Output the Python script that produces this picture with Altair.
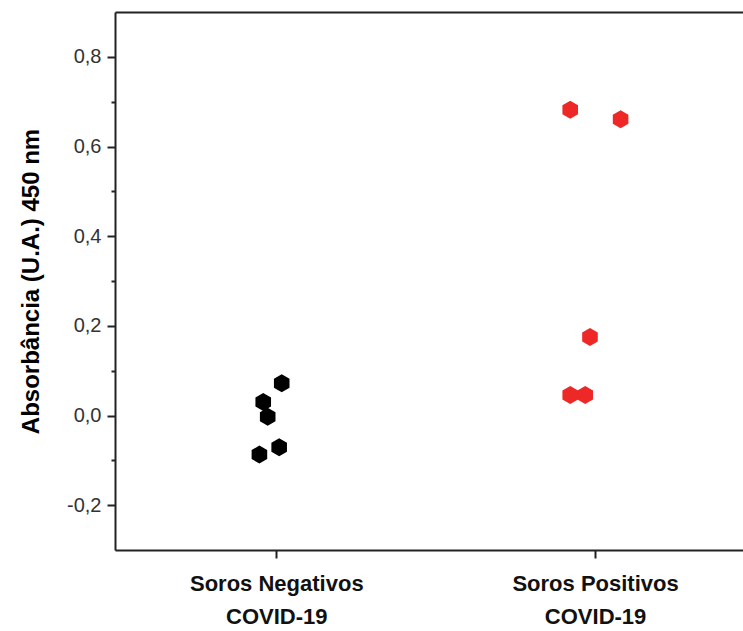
import altair as alt
import pandas as pd

groups = ["Soros Negativos", "Soros Positivos"]
group_label_line2 = "COVID-19"
# x position (group index + jitter) and absorbance
neg_x = [1.017, 0.959, 0.973, 1.009, 0.947]
neg_y = [0.072, 0.030, -0.003, -0.071, -0.087]
pos_x = [1.922, 2.080, 1.984, 1.922, 1.969]
pos_y = [0.682, 0.661, 0.175, 0.046, 0.046]
y_ticks = [-0.2, -0.1, 0.0, 0.1, 0.2, 0.3, 0.4, 0.5, 0.6, 0.7, 0.8]
colors = ["#000000", "#EE2727"]

df = pd.DataFrame({
    "x": neg_x + pos_x,
    "y": neg_y + pos_y,
    "grupo": [groups[0]] * len(neg_x) + [groups[1]] * len(pos_x),
})

hexagon = "M0,-1L0.866,-0.5L0.866,0.5L0,1L-0.866,0.5L-0.866,-0.5Z"

label_expr = (
    f"datum.value == 1 ? ['{groups[0]}', '{group_label_line2}'] : "
    f"datum.value == 2 ? ['{groups[1]}', '{group_label_line2}'] : ''"
)

x_scale = alt.Scale(domain=[0.494, 2.464], nice=False, zero=False)
y_scale = alt.Scale(domain=[-0.3, 0.9], nice=False, zero=False)

y_axis = alt.Axis(
    title="Absorbância (U.A.) 450 nm",
    titleFont="Liberation Sans",
    titleFontSize=24,
    titleFontWeight="bold",
    titleColor="#000000",
    titlePadding=23,
    values=y_ticks,
    labelExpr="round(datum.value*10) % 2 === 0 ? replace(replace(format(datum.value, '.1f'), '.', ','), '\u2212', '-') : ''",
    labelFont="Liberation Sans",
    labelFontSize=20,
    labelColor="#333333",
    labelPadding=6,
    labelLimit=0,
    tickSize={"condition": {"test": "round(datum.value*10) % 2 === 0", "value": 8}, "value": 4},
    tickWidth=2,
    tickColor="#222222",
    domainColor="#222222",
    domainWidth=2,
    grid=False,
)

x_axis = alt.Axis(
    title=None,
    values=[1, 2],
    labelExpr=label_expr,
    labelFont="Liberation Sans",
    labelFontSize=22,
    labelFontWeight="bold",
    labelColor="#111111",
    labelLineHeight=33,
    labelBaseline="top",
    labelPadding=15,
    labelLimit=0,
    tickSize=8,
    tickWidth=2,
    tickColor="#222222",
    domainColor="#222222",
    domainWidth=2,
    grid=False,
)

x_axis_top = alt.Axis(
    title=None, orient="top", labels=False, ticks=False,
    domainColor="#222222", domainWidth=2, grid=False,
)

points = alt.Chart(df).mark_point(
    shape=hexagon, filled=True, size=324, opacity=1, strokeWidth=0
).encode(
    x=alt.X("x:Q", scale=x_scale, axis=x_axis),
    y=alt.Y("y:Q", scale=y_scale, axis=y_axis),
    color=alt.Color("grupo:N", scale=alt.Scale(domain=groups, range=colors), legend=None),
)

frame = alt.Chart(df).mark_point(opacity=0).encode(
    x=alt.X("x:Q", scale=x_scale, axis=x_axis_top),
    y=alt.Y("y:Q", scale=y_scale),
)

chart = alt.layer(points, frame).resolve_axis(x="independent").properties(
    width=628,
    height=538,
    autosize=alt.AutoSizeParams(type="none"),
    padding={"left": 115, "top": 12, "right": 0, "bottom": 81},
    background="white",
).configure_view(stroke=None)

chart.save("out.html", embed_options={"renderer": "svg", "actions": False})
